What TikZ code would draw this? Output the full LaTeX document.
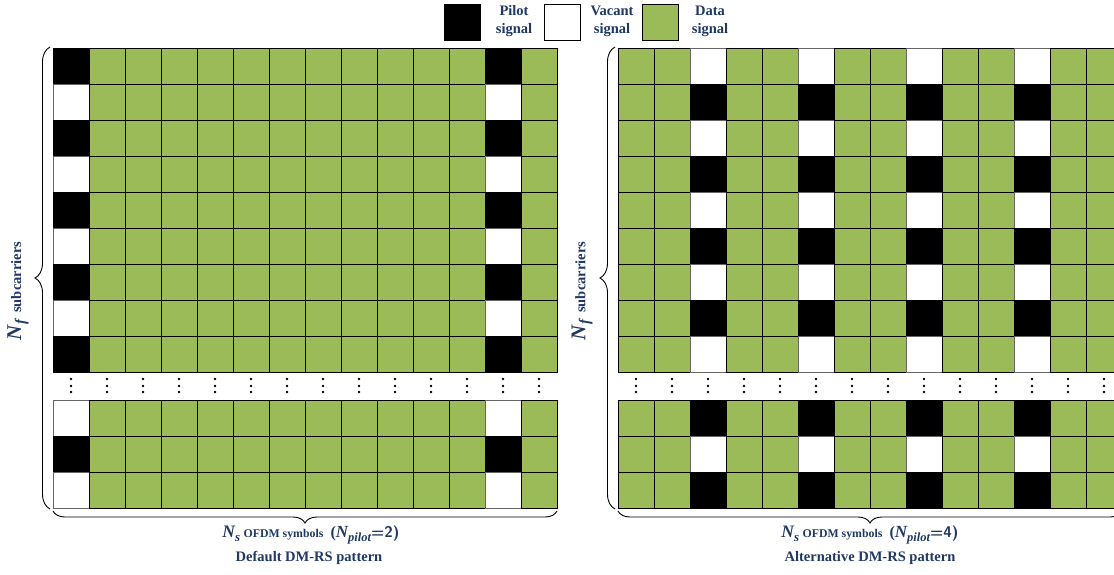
\documentclass[tikz,border=0pt]{standalone}
\usepackage{fontspec}
\setmainfont{Liberation Serif}
\usetikzlibrary{decorations.pathreplacing}
\definecolor{datag}{RGB}{155,187,89}
\definecolor{navy}{RGB}{31,56,100}
\newcommand{\bsub}[4]{{\fontsize{#1}{#1}\selectfont\bfseries\itshape #3}\raisebox{-0.28em}{\fontsize{#2}{#2}\selectfont\bfseries\itshape #4}}
\tikzset{
  cell/.style={draw=black, line width=1pt, minimum size=36pt, inner sep=0pt, outer sep=0pt, anchor=north west},
  pilotcell/.style={cell, fill=black},
  vacantcell/.style={cell, fill=white, draw=black!60},
  datacell/.style={cell, fill=datag},
  lbl/.style={text=navy, font=\fontsize{14.5}{17}\selectfont\bfseries, align=center, inner sep=0pt},
  dotc/.style={fill=black, circle, inner sep=0pt, minimum size=2.6pt},
  bracestyle/.style={decorate, decoration={brace, amplitude=#1}, line width=0.9pt},
}
\begin{document}
\begin{tikzpicture}[x=1pt,y=-1pt]
\useasboundingbox (0,0) rectangle (1114,574);
\clip (0,0) rectangle (1114,574);
% ---- legend
\node[pilotcell, minimum size=36pt] (legP) at (444,4) {};
\node[lbl, font=\fontsize{14.5}{18}\selectfont\bfseries] (legPt) at (514,21) {Pilot\\signal};
\node[vacantcell, draw=black, minimum size=36pt] (legV) at (544,4) {};
\node[lbl, font=\fontsize{14.5}{18}\selectfont\bfseries] (legVt) at (612,21) {Vacant\\signal};
\node[datacell, minimum size=36pt] (legD) at (642,4) {};
\node[lbl, font=\fontsize{14.5}{18}\selectfont\bfseries] (legDt) at (710,21) {Data\\signal};
% ---- left grid (default pattern)
\foreach \r in {0,...,8} \foreach \c in {0,...,13} {
  \pgfmathtruncatemacro\k{or(\c==0,\c==12)*(2-(mod(\r,2)==0))}
  \ifcase\k \def\st{datacell}\or\def\st{pilotcell}\or\def\st{vacantcell}\fi
  \node[\st] (LT-\r-\c) at (53+36*\c,48+36*\r) {};
}
\foreach \r in {0,...,2} \foreach \c in {0,...,13} {
  \pgfmathtruncatemacro\k{or(\c==0,\c==12)*(1+(mod(\r,2)==0))}
  \ifcase\k \def\st{datacell}\or\def\st{pilotcell}\or\def\st{vacantcell}\fi
  \node[\st] (LB-\r-\c) at (53+36*\c,400+36*\r) {};
}
% ---- right grid (alternative pattern)
\foreach \r in {0,...,8} \foreach \c in {0,...,13} {
  \pgfmathtruncatemacro\k{and(mod(\c,3)==2,\c<12)*(1+(mod(\r,2)==0))}
  \ifcase\k \def\st{datacell}\or\def\st{pilotcell}\or\def\st{vacantcell}\fi
  \node[\st] (RT-\r-\c) at (618+36*\c,48+36*\r) {};
}
\foreach \r in {0,...,2} \foreach \c in {0,...,13} {
  \pgfmathtruncatemacro\k{and(mod(\c,3)==2,\c<12)*(2-(mod(\r,2)==0))}
  \ifcase\k \def\st{datacell}\or\def\st{pilotcell}\or\def\st{vacantcell}\fi
  \node[\st] (RB-\r-\c) at (618+36*\c,400+36*\r) {};
}
% ---- vertical dots
\foreach \c in {0,...,13} {
  \foreach \d/\yy in {1/379,2/386,3/392} {
    \node[dotc] (LD-\c-\d) at (71+36*\c,\yy) {};
    \node[dotc] (RD-\c-\d) at (636+36*\c,\yy) {};
  }
}
% ---- braces
\coordinate (LbrT) at (50,47);
\coordinate (LbrB) at (50,509);
\coordinate (RbrT) at (615,47);
\coordinate (RbrB) at (615,509);
\coordinate (LbhL) at (53,511);
\coordinate (LbhR) at (557,511);
\coordinate (RbhL) at (618,511);
\coordinate (RbhR) at (1122,511);
\draw[bracestyle=15pt] (LbrB) -- (LbrT);
\draw[bracestyle=15pt] (RbrB) -- (RbrT);
\draw[bracestyle=12pt] (LbhR) -- (LbhL);
\draw[bracestyle=12pt] (RbhR) -- (RbhL);
% ---- axis labels
\node[lbl, rotate=90] (Lnf) at (18,291) {\bsub{21}{15}{N}{f}\ \ {\fontsize{14.5}{14.5}\selectfont subcarriers}};
\node[lbl, rotate=90] (Rnf) at (582,291) {\bsub{21}{15}{N}{f}\ \ {\fontsize{14.5}{14.5}\selectfont subcarriers}};
\node[lbl] (Lns) at (311,535) {\bsub{17.5}{13}{N}{s}\ {\fontsize{11.8}{11.8}\selectfont OFDM symbols}\ \ {\fontsize{16}{16}\selectfont (}\bsub{17}{12.5}{N}{pilot}{\fontsize{15.5}{15.5}\selectfont\sffamily =2)}};
\node[lbl] (Lname) at (309,558) {Default DM-RS pattern};
\node[lbl] (Rns) at (870,535) {\bsub{17.5}{13}{N}{s}\ {\fontsize{11.8}{11.8}\selectfont OFDM symbols}\ \ {\fontsize{16}{16}\selectfont (}\bsub{17}{12.5}{N}{pilot}{\fontsize{15.5}{15.5}\selectfont\sffamily =4)}};
\node[lbl] (Rname) at (870,558) {Alternative DM-RS pattern};
\end{tikzpicture}
\end{document}
